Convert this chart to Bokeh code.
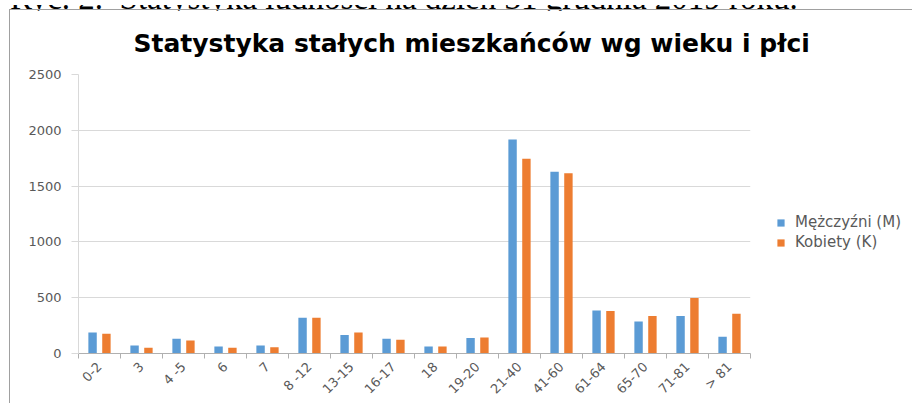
import numpy as np
from bokeh.plotting import figure
from bokeh.layouts import column
from bokeh.models import (Range1d, FixedTicker, Legend, LegendItem, ColumnDataSource,
                          LinearAxis, Grid, Div)
from bokeh.embed import file_html
from bokeh.resources import INLINE

# ---- data ----
categories = ["0-2", "3", "4 -5", "6", "7", "8 -12", "13-15", "16-17", "18",
              "19-20", "21-40", "41-60", "61-64", "65-70", "71-81", "> 81"]
men = [189, 72, 132, 63, 72, 320, 165, 132, 63, 138, 1918, 1628, 386, 287, 335, 150]
women = [177, 51, 117, 51, 57, 320, 189, 123, 63, 144, 1744, 1616, 380, 335, 497, 356]
y_ticks = [0, 500, 1000, 1500, 2000, 2500]
series_names = ["Mężczyźni (M)", "Kobiety (K)"]
title_text = "Statystyka stałych mieszkańców wg wieku i płci"
caption_label = "Ryc. 2."
caption_text = "Statystyka ludności na dzień 31 grudnia 2019 roku."

n = len(categories)
idx = np.arange(n)
centers = idx + 0.5
src = ColumnDataSource(dict(xm=centers - 0.165, xk=centers + 0.165, men=men, women=women))

FONT = "DejaVu Sans"
TXT = "#595959"

# caption above the chart (only its lower part is visible, as in the source)
caption = Div(
    text=(f'<div style="position:relative; left:5px; top:-23px; white-space:nowrap; '
          f'font-family:\'Liberation Serif\'; font-size:33px; line-height:33px; color:#000;">'
          f'{caption_label}&nbsp; {caption_text}</div>'),
    width=900, height=11, styles={"overflow": "hidden"})

p = figure(width=900, height=388, x_range=Range1d(0, n), y_range=Range1d(0, 2500),
           output_backend="svg", toolbar_location=None,
           x_axis_type=None, y_axis_type=None,
           min_border_left=68, min_border_right=0, min_border_top=64, min_border_bottom=46,
           styles={"margin-left": "9px", "margin-top": "-12px",
                   "border-left": "1px solid #A0A0A0", "border-top": "1px solid #A0A0A0"})
p.frame_width = 671
p.frame_height = 278
p.outline_line_color = None
p.background_fill_color = "white"
p.border_fill_color = "white"

# title
p.title.text = title_text
p.title.align = "left"
p.title.text_font = FONT
p.title.text_font_size = "25px"
p.title.text_font_style = "bold"
p.title.text_color = "#000000"
p.title.offset = 55
p.title.standoff = 33

# y axis & grid
yaxis = LinearAxis(ticker=FixedTicker(ticks=y_ticks, minor_ticks=[]),
                   axis_line_color="#D9D9D9", major_tick_line_color="#D9D9D9",
                   major_tick_out=7, major_tick_in=0, minor_tick_line_color=None,
                   major_label_standoff=10, major_label_text_font=FONT,
                   major_label_text_font_size="13px", major_label_text_color=TXT)
p.add_layout(yaxis, "left")
p.add_layout(Grid(dimension=1, ticker=FixedTicker(ticks=y_ticks), grid_line_color="#D9D9D9"))

# x axis: labels at centres, tick marks at category boundaries
xaxis = LinearAxis(ticker=FixedTicker(ticks=list(centers), minor_ticks=list(range(n + 1))),
                   major_label_overrides={float(c): lab for c, lab in zip(centers, categories)},
                   major_tick_line_color=None, major_tick_out=0, major_tick_in=0,
                   minor_tick_out=5, minor_tick_in=0, minor_tick_line_color="#B0B0B0",
                   axis_line_color="#B0B0B0", major_label_orientation=np.pi / 4,
                   major_label_standoff=6, major_label_text_font=FONT,
                   major_label_text_font_size="13px", major_label_text_color=TXT)
p.add_layout(xaxis, "below")

r1 = p.vbar(x="xm", top="men", width=0.2, source=src, fill_color="#5B9BD5", line_color=None)
r2 = p.vbar(x="xk", top="women", width=0.2, source=src, fill_color="#ED7D31", line_color=None)

legend = Legend(items=[LegendItem(label=series_names[0], renderers=[r1]),
                       LegendItem(label=series_names[1], renderers=[r2])],
                location=(26, 101), padding=0, margin=0, spacing=0,
                border_line_color=None, background_fill_alpha=0,
                glyph_width=9, glyph_height=9, label_height=20, label_standoff=10,
                label_text_font=FONT, label_text_font_size="15px", label_text_color=TXT)
p.add_layout(legend, "right")

layout = column(caption, p, spacing=0)
open("out.html", "w").write(file_html(layout, INLINE))
